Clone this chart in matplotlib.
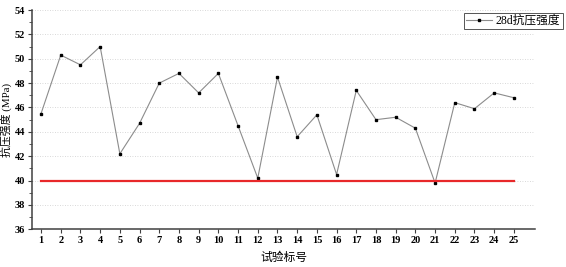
import numpy as np
import matplotlib.pyplot as plt
from matplotlib.ticker import MultipleLocator

plt.rcParams['font.family'] = ['Liberation Serif', 'Noto Sans CJK SC']

# 试验编号与 28d 抗压强度 (MPa)
sample_no = list(range(1, 26))
strength = [45.5, 50.3, 49.5, 51.0, 42.2, 44.7, 48.0, 48.8, 47.2, 48.8,
            44.5, 40.2, 48.5, 43.6, 45.4, 40.5, 47.4, 45.0, 45.2, 44.3,
            39.8, 46.4, 45.9, 47.2, 46.8]
limit_value = 40
series_label = '28d抗压强度'

fig = plt.figure(figsize=(5.66, 2.67), dpi=100)
ax = fig.add_axes([0.0565, 0.141, 0.8887, 0.8215])

ax.plot(sample_no, strength, '-', color='#8c8c8c', lw=0.8,
        marker='s', ms=1.9, mfc='black', mec='black', label=series_label)
ax.plot([sample_no[0], sample_no[-1]], [limit_value, limit_value],
        color='#e8282a', lw=1.6)

ax.set_xlim(0.54, 26.07)
ax.set_ylim(36, 54)
ax.set_xticks(sample_no)
ax.yaxis.set_major_locator(MultipleLocator(2))
ax.yaxis.set_minor_locator(MultipleLocator(1))
ax.grid(axis='y', ls=(0, (1, 2)), color='#cccccc', lw=0.6)
ax.set_axisbelow(True)

for s in ['top', 'right']:
    ax.spines[s].set_visible(False)
for s in ['left', 'bottom']:
    ax.spines[s].set_color('#404040')
    ax.spines[s].set_linewidth(1.1)

ax.tick_params(which='major', direction='out', length=3, width=0.8,
               color='#404040', labelsize=7.5, pad=2)
ax.tick_params(which='minor', direction='out', length=2, width=0.6,
               color='#404040')
for lab in ax.get_xticklabels() + ax.get_yticklabels():
    lab.set_fontweight('bold')

ax.set_xlabel('试验标号', fontsize=8.5, labelpad=5)
ax.set_ylabel('抗压强度 (MPa)', fontsize=7.8, va='center')
ax.yaxis.set_label_coords(-0.051, 0.5)

leg = ax.legend(loc='upper right', bbox_to_anchor=(0.994, 0.953),
                bbox_transform=fig.transFigure, fontsize=8.5,
                fancybox=False, framealpha=1, edgecolor='#555555',
                handlelength=2.2, handletextpad=0.3, borderpad=0.2,
                borderaxespad=0)
leg.get_frame().set_linewidth(0.7)

fig.savefig('out.png', dpi=100)
